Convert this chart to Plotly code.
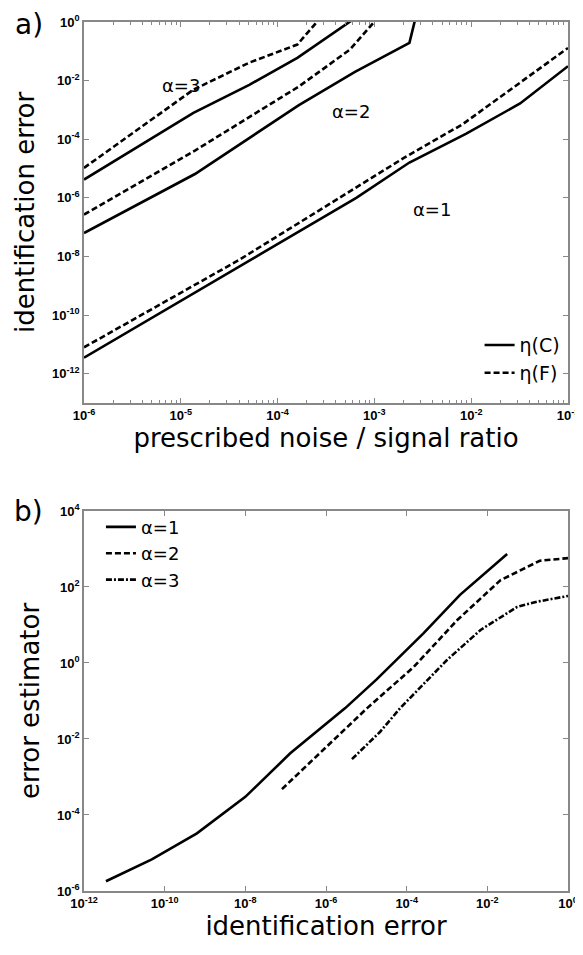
import plotly.graph_objects as go

# ---------------- panel a) data ----------------
noise_a1_C = [1e-6, 3.3e-5, 6.5e-4, 2.3e-3, 8.9e-3, 3.2e-2, 1e-1]
err_a1_C = [3.5e-12, 3.0e-9, 1.0e-6, 1.6e-5, 1.55e-4, 1.66e-3, 3.1e-2]
noise_a1_F = [1e-6, 4.0e-5, 2.1e-3, 8.1e-3, 1e-1]
err_a1_F = [7.9e-12, 7.6e-9, 2.5e-5, 3.2e-4, 0.13]

noise_a2_C = [1e-6, 1.4e-5, 1.66e-4, 6.3e-4, 2.3e-3, 2.65e-3]
err_a2_C = [6.3e-8, 6.5e-6, 1.45e-3, 2.0e-2, 0.195, 1.3]
noise_a2_F = [1e-6, 1.4e-5, 1.66e-4, 5.6e-4, 1.05e-3]
err_a2_F = [2.7e-7, 4.1e-5, 6.3e-3, 0.115, 1.23]

noise_a3_C = [1e-6, 1.35e-5, 5.1e-5, 1.6e-4, 6.3e-4]
err_a3_C = [4.2e-6, 7.9e-4, 7.2e-3, 6.0e-2, 1.35]
noise_a3_F = [1e-6, 1.35e-5, 5.1e-5, 1.6e-4, 2.7e-4]
err_a3_F = [1.05e-5, 4.9e-3, 4.1e-2, 0.17, 1.26]

# ---------------- panel b) data ----------------
ident_a1 = [3.5e-12, 4.8e-11, 6.3e-10, 1e-8, 1.3e-7, 3.0e-6, 1.8e-5, 2.6e-4, 2.1e-3, 3.1e-2]
est_a1 = [1.8e-6, 6.8e-6, 3.3e-5, 3.0e-4, 4.2e-3, 6.5e-2, 0.37, 6.0, 62, 740]
ident_a2 = [8.1e-8, 1.05e-5, 1.5e-4, 1.8e-3, 2.1e-2, 0.2, 1.0]
est_a2 = [4.8e-4, 6.5e-2, 0.79, 13.5, 150, 490, 575]
ident_a3 = [4.4e-6, 2.2e-5, 6.9e-5, 1e-3, 6.8e-3, 5.5e-2, 0.17, 1.0]
est_a3 = [2.95e-3, 1.55e-2, 6.5e-2, 1.2, 7.4, 30, 41, 58]

# tick labels
xa_exps = [-6, -5, -4, -3, -2, -1]
ya_exps = [0, -2, -4, -6, -8, -10, -12]
xb_exps = [-12, -10, -8, -6, -4, -2, 0]
yb_exps = [4, 2, 0, -2, -4, -6]


def pw(e):
    return "10<sup>%d</sup>" % e


fig = go.Figure()
LW = 2.6
DASH = "6px,3px"

top_series = [
    (noise_a1_C, err_a1_C, "solid", "η(C)", True),
    (noise_a1_F, err_a1_F, DASH, "η(F)", True),
    (noise_a2_C, err_a2_C, "solid", "η(C)", False),
    (noise_a2_F, err_a2_F, DASH, "η(F)", False),
    (noise_a3_C, err_a3_C, "solid", "η(C)", False),
    (noise_a3_F, err_a3_F, DASH, "η(F)", False),
]
for xs, ys, dash, name, show in top_series:
    fig.add_trace(go.Scatter(x=xs, y=ys, mode="lines", name=name, showlegend=show,
                             line=dict(color="black", width=LW, dash=dash),
                             xaxis="x", yaxis="y", legend="legend"))

bot_series = [
    (ident_a1, est_a1, "solid", "α=1"),
    (ident_a2, est_a2, DASH, "α=2"),
    (ident_a3, est_a3, "6px,2px,2px,2px", "α=3"),
]
for xs, ys, dash, name in bot_series:
    fig.add_trace(go.Scatter(x=xs, y=ys, mode="lines", name=name,
                             line=dict(color="black", width=LW, dash=dash),
                             xaxis="x2", yaxis="y2", legend="legend2"))

axis_common = dict(type="log", showgrid=False, zeroline=False, showline=True,
                   linecolor="#888888", linewidth=1.5, mirror="ticks", automargin=False,
                   ticks="inside", ticklen=5, tickcolor="#888888", tickwidth=1,
                   tickmode="array", ticklabeloverflow="allow",
                   tickfont=dict(family="Liberation Sans", size=13, color="black", weight="bold"))
title_font = dict(family="DejaVu Sans", size=26, color="black")

minor_vals = [m * 10.0 ** e for e in range(-6, -1) for m in range(2, 10)]

# page body has an 8px offset; figure is sized so the plot areas land where they should
fig.update_layout(
    width=583, height=933,
    paper_bgcolor="white", plot_bgcolor="white",
    margin=dict(l=76, r=23, t=14, b=50),
    xaxis=dict(axis_common, domain=[0, 1], anchor="y", range=[-6, -1],
               tickvals=[10.0 ** e for e in xa_exps], ticktext=[pw(e) for e in xa_exps],
               minor=dict(tickmode="array", tickvals=minor_vals, ticks="inside",
                          ticklen=3, tickcolor="#888888", showgrid=False),
               title=dict(text="prescribed noise / signal ratio", font=title_font, standoff=4)),
    yaxis=dict(axis_common, domain=[0.5616, 1], anchor="x", range=[-13, 0],
               tickvals=[10.0 ** e for e in ya_exps], ticktext=[pw(e) for e in ya_exps],
               title=dict(text="identification error", font=title_font, standoff=10)),
    xaxis2=dict(axis_common, domain=[0, 1], anchor="y2", range=[-12, 0],
                tickvals=[10.0 ** e for e in xb_exps], ticktext=[pw(e) for e in xb_exps],
                title=dict(text="identification error", font=title_font, standoff=4)),
    yaxis2=dict(axis_common, domain=[0, 0.4373], anchor="x2", range=[-6, 4],
                tickvals=[10.0 ** e for e in yb_exps], ticktext=[pw(e) for e in yb_exps],
                title=dict(text="error estimator", font=title_font, standoff=10)),
    legend=dict(x=0.995, xanchor="right", y=0.574, yanchor="bottom",
                bgcolor="rgba(0,0,0,0)", font=dict(family="DejaVu Sans", size=19, color="black"),
                tracegroupgap=0, itemwidth=30),
    legend2=dict(x=0.035, xanchor="left", y=0.44, yanchor="top",
                 bgcolor="rgba(0,0,0,0)", font=dict(family="DejaVu Sans", size=18, color="black"),
                 tracegroupgap=0, itemwidth=30),
)

plot_w = 484
plot_h = 869


def px2paper(px, py):
    return (px - 84) / plot_w, (891 - py) / plot_h


annotations = []
for text, px, py, size in [("a)", 29, 24, 28), ("b)", 28, 511, 28),
                           ("α=3", 181, 85, 18), ("α=2", 351, 112, 18), ("α=1", 432, 209, 18)]:
    ax, ay = px2paper(px, py)
    annotations.append(dict(text=text, x=ax, y=ay, xref="paper", yref="paper", showarrow=False,
                            xanchor="center", yanchor="middle",
                            font=dict(family="DejaVu Sans", size=size, color="black")))
fig.update_layout(annotations=annotations)

fig.write_html("out.html")
